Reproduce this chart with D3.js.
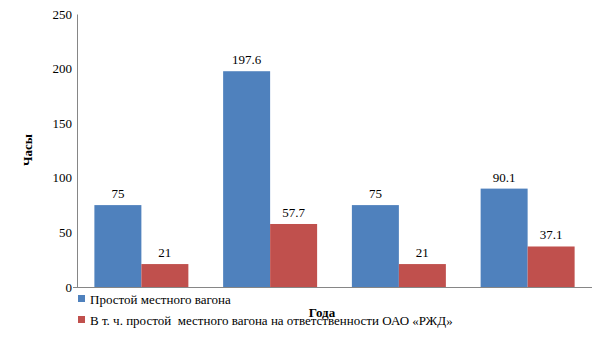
<!DOCTYPE html>
<html><head><meta charset="utf-8">
<script src="https://cdn.jsdelivr.net/npm/d3@7"></script>
<style>body{margin:0;background:#fff}svg{display:block}svg text{font-family:"Liberation Serif","DejaVu Serif",serif;}</style>
</head><body><svg id="c" width="605" height="340"></svg>
<script>
const categories = ["1", "2", "3", "4"];
const seriesNames = ["Простой местного вагона", "В т. ч. простой  местного вагона на ответственности ОАО «РЖД»"];
const series1 = [75, 197.6, 75, 90.1];
const series2 = [21, 57.7, 21, 37.1];
const yTicks = [0, 50, 100, 150, 200, 250];
const colors = ["#4F81BD", "#C0504D"];

const svg = d3.select("#c");
const m = {l: 77, r: 592, t: 14, b: 287};
const x = d3.scaleBand().domain(categories).range([m.l, m.r]).paddingInner(0.27).paddingOuter(0.135);
const xs = d3.scaleBand().domain([0, 1]).range([0, x.bandwidth()]);
const y = d3.scaleLinear().domain([0, 250]).range([m.b, m.t]);

const data = categories.map((c, i) => ({c, v: [series1[i], series2[i]]}));
const g = svg.append("g");
data.forEach(d => {
  d.v.forEach((v, j) => {
    g.append("rect").attr("x", x(d.c) + xs(j)).attr("width", xs.bandwidth())
      .attr("y", y(v)).attr("height", y(0) - y(v)).attr("fill", colors[j]);
    g.append("text").attr("x", x(d.c) + xs(j) + xs.bandwidth() / 2).attr("y", y(v) - 7)
      .attr("text-anchor", "middle").style("font-size", "13px").attr("fill", "#000")
      .text(v);
  });
});

const ya = svg.append("g").attr("transform", `translate(${m.l},0)`)
  .call(d3.axisLeft(y).tickValues(yTicks).tickSize(0).tickPadding(5));
ya.select(".domain").attr("stroke", "#868686");
ya.selectAll("text").attr("font-family", null).style("font-size", "13px").attr("fill", "#000");

svg.append("line").attr("x1", m.l - 4).attr("x2", m.r).attr("y1", m.b + 0.5).attr("y2", m.b + 0.5).attr("stroke", "#868686");

svg.append("text").attr("transform", `translate(32,150) rotate(-90)`).attr("text-anchor", "middle")
  .style("font-size", "13px").attr("font-weight", "bold").text("Часы");
svg.append("text").attr("x", 322).attr("y", 317).attr("text-anchor", "middle")
  .style("font-size", "13px").attr("font-weight", "bold").text("Года");

seriesNames.forEach((n, i) => {
  const yy = 299 + i * 21;
  svg.append("rect").attr("x", 78).attr("y", yy - 4).attr("width", 7).attr("height", 7).attr("fill", colors[i]);
  svg.append("text").attr("x", 90).attr("y", yy + 4.5).style("font-size", "13px")
    .style("white-space", "pre").text(n);
});
</script></body></html>
